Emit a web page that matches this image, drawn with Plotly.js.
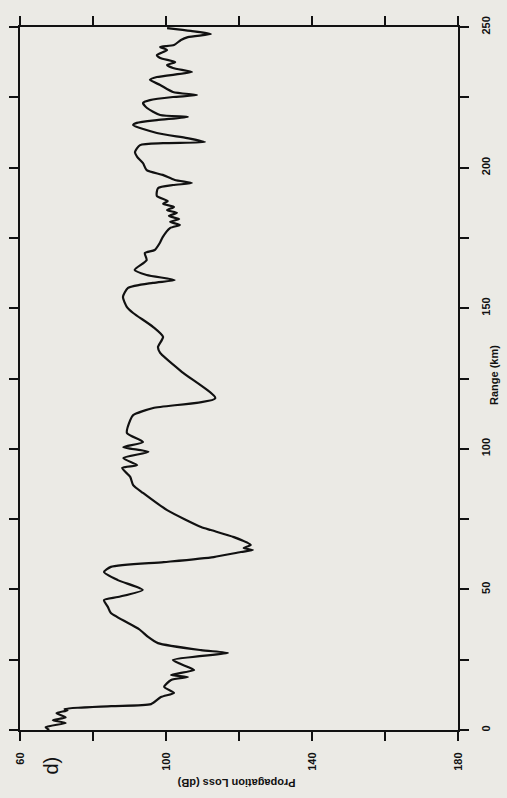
<!DOCTYPE html>
<html>
<head>
<meta charset="utf-8">
<script src="https://cdn.plot.ly/plotly-3.0.1.min.js"></script>
<style>html,body{margin:0;padding:0;background:#ebeae5;}#chart{width:507px;height:798px;}</style>
</head>
<body>
<div id="chart"></div>
<script>
// Range (km) along the track
var rangeKm = [0, 1, 2.5, 3.5, 4.5, 6, 7, 7.5, 8.5, 9.2, 11.7, 13.2, 15.3, 17.8, 18.8, 19.6, 21.3, 22.4, 24.9, 27.4, 28.4, 30.9, 33.1, 35.9, 41.6, 43.7, 46.2, 47.3, 49.8, 53.3, 56.2, 58.0, 59.7, 61.5, 63.3, 64.0, 64.7, 65.8, 68.6, 71.1, 72.2, 78.2, 84.3, 87.1, 90.0, 93.2, 94.2, 96.7, 98.9, 100.6, 102.4, 105.6, 110.2, 112.0, 114.5, 118.0, 127.0, 134.1, 136.2, 139.8, 143.3, 148.3, 150.4, 154.0, 157.2, 159.0, 160.0, 161.8, 163.6, 167.1, 169.6, 170.7, 173.2, 175.3, 178.5, 179.6, 180.7, 181.7, 182.8, 183.9, 184.9, 186.0, 187.1, 188.1, 189.9, 192.7, 193.8, 194.5, 195.6, 197.4, 199.1, 201.6, 203.8, 205.5, 208.0, 208.7, 209.1, 210.5, 212.3, 215.1, 215.9, 216.9, 218.0, 218.7, 221.2, 223.0, 224.0, 225.1, 225.8, 226.9, 229.4, 231.2, 232.2, 234.0, 235.4, 236.5, 237.5, 239.0, 240.0, 241.8, 242.9, 243.6, 245.4, 246.4, 247.5, 248.6, 249.6];
// Propagation loss (dB)
var lossDb = [68, 67, 72.5, 69, 72.5, 70, 73, 72.2, 85, 95.9, 98.6, 102.2, 99.5, 101.4, 106, 101.4, 107.7, 106, 101.9, 117, 109.6, 97.8, 95.1, 92.6, 84.9, 84.1, 83, 86.8, 93.6, 86.8, 83, 84.9, 99.4, 113.1, 120.5, 123.8, 121.3, 123.2, 118.6, 112.3, 109.6, 100.3, 93.7, 91, 90.2, 88, 92.1, 88.3, 95.2, 88.3, 93.7, 89.3, 90.2, 91, 96.5, 113.5, 104.7, 98.4, 97.8, 99.2, 96.5, 91, 89.3, 88.2, 89.6, 96.4, 102.4, 94.7, 91.4, 94.7, 94.2, 96.9, 98.3, 99.1, 101.1, 103.8, 101.1, 103.6, 100.8, 103, 100.3, 102.2, 99.2, 100.5, 97.5, 97.8, 101.9, 107.1, 102.4, 99.1, 94.7, 93.7, 92.1, 91.5, 92.9, 99.2, 110.7, 105.8, 97.5, 91, 92, 97.5, 106, 98.4, 94.8, 93.7, 95.6, 101.9, 108.5, 101.9, 98.4, 95.6, 97.5, 107.1, 101.9, 100.3, 102.5, 98.4, 97.5, 100.3, 98.4, 102.2, 104.1, 106, 112.3, 106.8, 100.3];

var lossTicks = [60, 80, 100, 120, 140, 160, 180];
var lossTickText = ['<b>60</b>', '', '<b>100</b>', '', '<b>140</b>', '', '<b>180</b>'];
var rangeTicks = [0, 25, 50, 75, 100, 125, 150, 175, 200, 225, 250];
var rangeTickText = ['<b>0</b>', '', '<b>50</b>', '', '<b>100</b>', '', '<b>150</b>', '', '<b>200</b>', '', '<b>250</b>'];

var fam = 'Liberation Sans, Arial, sans-serif';
var tickFont = {family: fam, size: 11, color: '#111'};

var trace = {
  x: lossDb, y: rangeKm, type: 'scatter', mode: 'lines',
  line: {color: '#111', width: 2.2, shape: 'spline', smoothing: 0.6},
  hoverinfo: 'skip'
};

var layout = {
  width: 507, height: 798,
  paper_bgcolor: '#ebeae5', plot_bgcolor: '#ebeae5',
  margin: {l: 20, r: 49, t: 27, b: 68},
  showlegend: false,
  xaxis: {
    range: [60, 180], tickvals: lossTicks, ticktext: lossTickText,
    ticks: 'outside', ticklen: 9, tickwidth: 2, tickcolor: '#111',
    showline: true, linewidth: 2, linecolor: '#111', mirror: 'ticks',
    showgrid: false, zeroline: false, tickangle: -90, tickfont: tickFont,
    ticklabelstandoff: 7, fixedrange: true
  },
  yaxis: {
    range: [0, 250], side: 'right', tickvals: rangeTicks, ticktext: rangeTickText,
    ticks: 'outside', ticklen: 9, tickwidth: 2, tickcolor: '#111',
    showline: true, linewidth: 2, linecolor: '#111', mirror: 'ticks',
    showgrid: false, zeroline: false, tickangle: -90, tickfont: tickFont,
    ticklabelstandoff: 8, fixedrange: true
  },
  annotations: [
    {text: '<b>Range (km)</b>', xref: 'paper', yref: 'paper', x: 1, y: 0.505, xshift: 44,
     showarrow: false, textangle: -90, font: {family: fam, size: 11, color: '#111'}},
    {text: '<b>Propagation Loss (dB)</b>', xref: 'paper', yref: 'paper', x: 0.495, y: 0, yshift: -61,
     showarrow: false, textangle: 180, font: {family: fam, size: 11, color: '#111'}},
    {text: 'd)', xref: 'paper', yref: 'paper', x: 0.04, y: 0, yshift: -47,
     showarrow: false, textangle: -90, font: {family: fam, size: 20, color: '#111'}}
  ]
};

Plotly.newPlot('chart', [trace], layout, {staticPlot: true, displayModeBar: false});
</script>
</body>
</html>
